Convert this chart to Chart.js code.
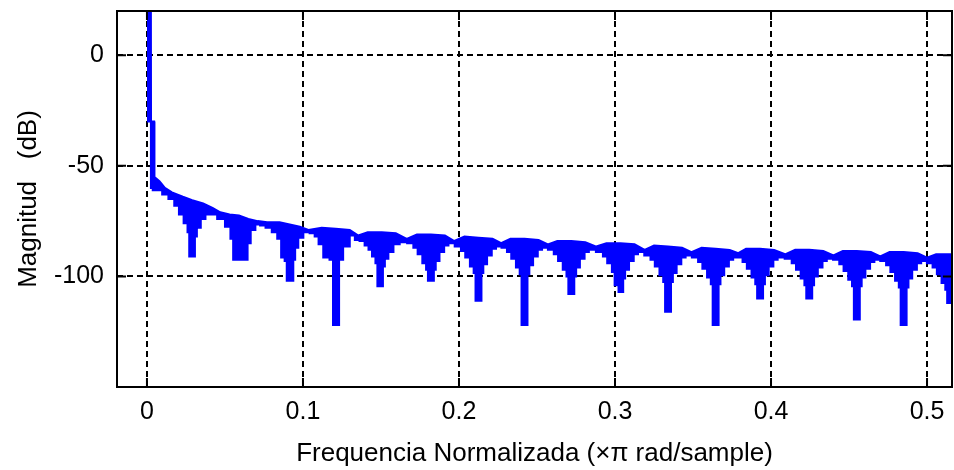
<!DOCTYPE html>
<html>
<head>
<meta charset="utf-8">
<title>Magnitud (dB)</title>
<script src="https://cdn.jsdelivr.net/npm/chart.js@4.4.1/dist/chart.umd.min.js"></script>
<style>
  html, body { margin: 0; padding: 0; background: #fff; }
  #wrap { width: 954px; height: 470px; position: relative; }
</style>
</head>
<body>
<div id="wrap"><canvas id="chart"></canvas></div>
<script>
// eje x en unidades de pi rad/sample, eje y en dB
const xTicks = [0, 0.1, 0.2, 0.3, 0.4, 0.5];
const yTicks = [-100, -50, 0];

// borde superior de la traza (envolvente)
const upperEdge = [
  [0, 30], [0.0025, 30], [0.0026, -30], [0.0046, -30], [0.0048, -55], [0.008, -57], [0.0115, -60],
  [0.016, -62], [0.023, -64], [0.029, -65.5], [0.036, -67], [0.042, -69], [0.047, -71],
  [0.053, -72], [0.059, -72.5], [0.065, -74], [0.071, -75], [0.077, -75.5], [0.085, -75.5],
  [0.0915, -76.5], [0.098, -77.5], [0.1035, -79],
  [0.112, -78], [0.121, -78.5], [0.13, -79], [0.1355, -81.5],
  [0.1415, -80], [0.1505, -80], [0.1595, -80.5], [0.1665, -83],
  [0.173, -81], [0.182, -81], [0.191, -81.5], [0.197, -84],
  [0.2035, -82], [0.2125, -82.5], [0.2215, -83], [0.227, -85],
  [0.233, -83], [0.242, -83], [0.251, -83.5], [0.257, -85.5],
  [0.263, -84], [0.272, -84], [0.281, -84.5], [0.288, -86.5],
  [0.2945, -85], [0.3035, -85], [0.3125, -85.5], [0.319, -88],
  [0.325, -86], [0.334, -86.5], [0.343, -87], [0.349, -89],
  [0.3555, -87], [0.3645, -87.5], [0.3735, -88], [0.379, -89.5],
  [0.384, -87.5], [0.393, -87.5], [0.402, -88], [0.409, -90],
  [0.4155, -88], [0.4245, -88], [0.4335, -88.5], [0.44, -90.5],
  [0.446, -88.5], [0.455, -88.5], [0.464, -89], [0.47, -91],
  [0.476, -89], [0.485, -89], [0.494, -89.5], [0.5, -91.5],
  [0.5058, -90], [0.5148, -90], [0.52, -90.5]
];

// borde inferior de la traza (lobulos y ceros)
const lowerEdge = [
  [0, -30], [0.0025, -30], [0.0026, -60], [0.0048, -61], [0.008, -61], [0.0115, -63],
  [0.016, -65], [0.019, -68], [0.022, -72], [0.025, -76], [0.027, -80], [0.0272, -91], [0.0305, -91], [0.031, -82], [0.033, -78], [0.036, -74], [0.039, -72], [0.042, -72],
  [0.048, -74], [0.052, -77.5], [0.055, -83], [0.0555, -92.5], [0.064, -92.5], [0.065, -85], [0.068, -79], [0.071, -76.5], [0.074, -77],
  [0.078, -78], [0.082, -80], [0.085, -83], [0.087, -91.5], [0.0895, -93], [0.0897, -102], [0.0936, -102], [0.094, -92.5], [0.096, -87], [0.098, -82.5], [0.1025, -80], [0.106, -80.5],
  [0.109, -82], [0.111, -85.5], [0.115, -91.5], [0.119, -92.5], [0.1195, -122], [0.1228, -122], [0.1235, -92.5], [0.128, -86.5], [0.132, -81.5], [0.1345, -83.5],
  [0.138, -84], [0.141, -86], [0.143, -88], [0.1455, -91], [0.1474, -94], [0.148, -104.5], [0.151, -104.5], [0.1515, -95.5], [0.1535, -92], [0.156, -89], [0.16, -85.5], [0.164, -84.5],
  [0.1695, -85], [0.172, -87], [0.175, -90], [0.178, -94], [0.1798, -97], [0.1804, -102], [0.1836, -102], [0.1842, -97], [0.186, -93], [0.189, -89], [0.192, -86], [0.1945, -85],
  [0.2, -86.5], [0.2025, -88.5], [0.2055, -91.5], [0.2085, -95.5], [0.2103, -98.5], [0.2109, -111], [0.2141, -111], [0.2147, -98.5], [0.2165, -94.5], [0.2195, -90.5], [0.2225, -87.5], [0.225, -86.5],
  [0.2295, -87], [0.232, -89], [0.235, -92], [0.238, -96], [0.2398, -99], [0.2404, -122], [0.2436, -122], [0.2442, -99], [0.246, -95], [0.249, -91], [0.252, -88], [0.2545, -87],
  [0.2595, -88], [0.262, -90], [0.265, -93], [0.268, -97], [0.2698, -100], [0.2704, -108], [0.2736, -108], [0.2742, -100], [0.276, -96], [0.279, -92], [0.282, -89], [0.2845, -88],
  [0.291, -89], [0.2935, -91], [0.2965, -94], [0.2995, -98], [0.3, -104], [0.301, -104], [0.3015, -101], [0.303, -107], [0.305, -107], [0.3055, -101], [0.3075, -97], [0.3105, -93], [0.3135, -90], [0.316, -89],
  [0.3215, -90.5], [0.324, -92.5], [0.327, -95.5], [0.33, -99.5], [0.3318, -102.5], [0.3324, -116], [0.3356, -116], [0.3362, -102.5], [0.338, -98.5], [0.341, -94.5], [0.344, -91.5], [0.3465, -90.5],
  [0.352, -91.5], [0.3545, -93.5], [0.3575, -96.5], [0.3605, -100.5], [0.3623, -103.5], [0.3629, -122], [0.3661, -122], [0.3667, -103.5], [0.3685, -99.5], [0.3715, -95.5], [0.3745, -92.5], [0.377, -91.5],
  [0.3805, -91.5], [0.383, -93.5], [0.386, -96.5], [0.389, -100.5], [0.3908, -103.5], [0.3914, -110], [0.3946, -110], [0.3952, -103.5], [0.397, -99.5], [0.4, -95.5], [0.403, -92.5], [0.4055, -91.5],
  [0.412, -92], [0.4145, -94], [0.4175, -97], [0.4205, -101], [0.4223, -104], [0.4229, -110], [0.4261, -110], [0.4267, -104], [0.4285, -100], [0.4315, -96], [0.4345, -93], [0.437, -92],
  [0.4425, -92.5], [0.445, -94.5], [0.448, -97.5], [0.451, -101.5], [0.4528, -104.5], [0.4534, -119.5], [0.4566, -119.5], [0.4572, -104.5], [0.459, -100.5], [0.462, -96.5], [0.465, -93.5], [0.4675, -92.5],
  [0.4725, -93], [0.475, -95], [0.478, -98], [0.481, -102], [0.4828, -105], [0.4834, -122], [0.4866, -122], [0.4872, -105], [0.489, -101], [0.492, -97], [0.495, -94], [0.4975, -93],
  [0.5023, -94], [0.5048, -96], [0.5078, -99], [0.5108, -103], [0.5126, -106], [0.5132, -112], [0.5164, -112], [0.517, -106], [0.52, -100]
];

const traceColor = '#0000ff';
const font = "'Liberation Sans', Arial, sans-serif";

const toPoints = arr => arr.map(p => ({ x: p[0], y: p[1] }));

// marco completo y marcas de tick hacia dentro, como en MATLAB
const axesBox = {
  id: 'axesBox',
  afterDraw(chart) {
    const { ctx, chartArea: a, scales } = chart;
    ctx.save();
    ctx.strokeStyle = '#000';
    ctx.lineWidth = 2;
    ctx.setLineDash([]);
    ctx.beginPath();
    xTicks.forEach(v => {
      const px = scales.x.getPixelForValue(v);
      ctx.moveTo(px, a.bottom); ctx.lineTo(px, a.bottom - 9);
      ctx.moveTo(px, a.top); ctx.lineTo(px, a.top + 9);
    });
    yTicks.forEach(v => {
      const py = scales.y.getPixelForValue(v);
      ctx.moveTo(a.left, py); ctx.lineTo(a.left + 9, py);
      ctx.moveTo(a.right, py); ctx.lineTo(a.right - 9, py);
    });
    ctx.stroke();
    ctx.strokeRect(a.left, a.top, a.right - a.left, a.bottom - a.top);
    ctx.restore();
  }
};

// sin relleno extra que Chart.js reserva para las etiquetas de los extremos
const noEdgePadding = s => {
  s.paddingTop = 0; s.paddingBottom = 0; s.paddingLeft = 0; s.paddingRight = 0;
};

new Chart(document.getElementById('chart'), {
  type: 'line',
  data: {
    datasets: [
      {
        label: 'upper',
        data: toPoints(upperEdge),
        borderColor: traceColor,
        backgroundColor: traceColor,
        borderWidth: 2,
        pointRadius: 0,
        tension: 0,
        fill: false,
        clip: 0
      },
      {
        label: 'lower',
        data: toPoints(lowerEdge),
        borderColor: traceColor,
        backgroundColor: traceColor,
        borderWidth: 2,
        pointRadius: 0,
        stepped: 'middle',
        fill: '-1',
        clip: 0
      }
    ]
  },
  options: {
    responsive: true,
    maintainAspectRatio: false,
    animation: false,
    layout: { padding: { top: 11, right: 2, left: 0, bottom: 0 } },
    plugins: {
      legend: { display: false },
      tooltip: { enabled: false }
    },
    scales: {
      x: {
        type: 'linear',
        min: -0.0192,
        max: 0.516,
        afterBuildTicks: s => { s.ticks = xTicks.map(v => ({ value: v })); },
        afterFit: s => { s.height = 83; noEdgePadding(s); },
        grid: { color: '#000', lineWidth: 2, drawTicks: false },
        border: { display: false, dash: [6, 4] },
        ticks: {
          color: '#000',
          padding: 10,
          maxRotation: 0,
          font: { family: font, size: 25 },
          callback: v => String(v)
        },
        title: {
          display: true,
          text: 'Frequencia Normalizada (×π rad/sample)',
          color: '#000',
          font: { family: font, size: 26 },
          padding: { top: 0, bottom: 1 }
        }
      },
      y: {
        min: -150,
        max: 20,
        afterBuildTicks: s => { s.ticks = yTicks.map(v => ({ value: v })); },
        afterFit: s => { s.width = 117; noEdgePadding(s); },
        grid: { color: '#000', lineWidth: 2, drawTicks: false },
        border: { display: false, dash: [6, 4] },
        ticks: {
          color: '#000',
          padding: 13,
          font: { family: font, size: 25 },
          callback: v => String(v)
        },
        title: {
          display: true,
          text: 'Magnitud   (dB)',
          color: '#000',
          font: { family: font, size: 26 },
          padding: { top: 13, bottom: 0 }
        }
      }
    }
  },
  plugins: [axesBox]
});
</script>
</body>
</html>
